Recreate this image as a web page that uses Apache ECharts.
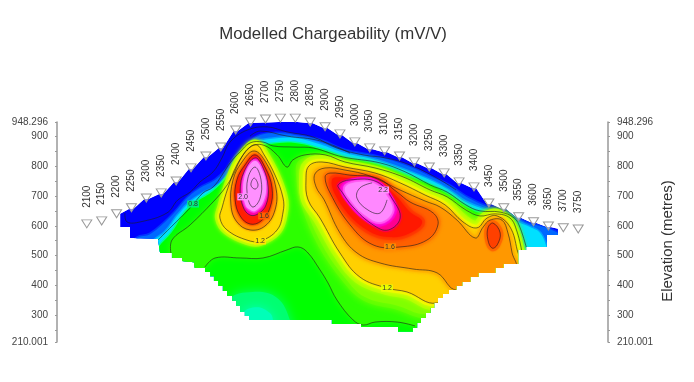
<!DOCTYPE html>
<html><head><meta charset="utf-8">
<style>html,body{margin:0;padding:0;background:#fff}#c{width:694px;height:382px;filter:blur(0.5px)}</style>
<script src="https://cdn.jsdelivr.net/npm/echarts@6/dist/echarts.min.js"></script></head>
<body><div id="c"></div>
<script>
const titleText = 'Modelled Chargeability (mV/V)';
const axisName = 'Elevation (metres)';
const yLabels = [210.001,300,400,500,600,700,800,900,948.296];
const yTicks = [210.001,250,300,350,400,450,500,550,600,650,700,750,800,850,900,948.296];
const stations = [2100,2150,2200,2250,2300,2350,2400,2450,2500,2550,2600,2650,2700,2750,2800,2850,2900,2950,3000,3050,3100,3150,3200,3250,3300,3350,3400,3450,3500,3550,3600,3650,3700,3750];
const markerElevation = [593,603,627,647,680,697,737,781,821,851,908,935,945,948,948,935,919,895,868,848,838,821,801,784,764,734,717,663,647,617,600,586,580,576];
const sectionTop = [603,613,637,657,690,707,747,791,831,861,918,945,947,948,948,945,929,905,878,858,848,831,811,794,774,744,727,673,657,627,610,596,590,586];
const sectionBottom = [[2212,640],[2212,596],[2245,596],[2245,559],[2339,556],[2346,509],[2386,509],[2386,492],[2420,492],[2420,482],[2460,478],[2463,458],[2497,458],[2497,445],[2514,445],[2514,431],[2527,431],[2527,415],[2541,415],[2541,398],[2557,398],[2557,381],[2571,381],[2571,364],[2588,364],[2588,348],[2601,348],[2601,331],[2615,331],[2615,311],[2631,311],[2631,297],[2645,297],[2645,284],[2923,284],[2923,270],[3021,270],[3021,260],[3145,260],[3145,244],[3195,244],[3195,257],[3209,257],[3209,274],[3222,274],[3222,291],[3239,291],[3239,307],[3253,307],[3253,324],[3266,324],[3266,341],[3279,341],[3279,358],[3296,358],[3296,371],[3316,371],[3316,385],[3340,385],[3340,398],[3360,398],[3360,411],[3387,411],[3387,428],[3414,428],[3414,442],[3471,442],[3471,458],[3498,458],[3498,472],[3548,472],[3548,519],[3575,519],[3575,529],[3645,529],[3645,569],[3682,569],[3682,590]];
const belowSection = [[3800,220],[2150,220]];
const bandMidBlue = [[2262,552],[2312,572],[2363,613],[2396,646],[2437,693],[2480,727],[2531,754],[2567,787],[2598,831],[2635,868],[2675,901],[2732,911],[2799,905],[2883,888],[2967,854],[3068,834],[3169,804],[3259,764],[3320,734],[3370,700],[3454,660],[3521,640],[3572,613],[3622,599],[3662,586],[3706,552]];
const bandCyan = [[2312,536],[2363,579],[2406,636],[2447,680],[2497,713],[2547,740],[2588,794],[2621,848],[2662,878],[2715,891],[2799,895],[2883,874],[2967,844],[3068,821],[3169,787],[3259,750],[3320,717],[3373,680],[3444,653],[3504,636],[3548,613],[3588,596],[3622,576],[3649,519]];
const bandGreen = [[2339,525],[2386,579],[2430,646],[2473,683],[2524,717],[2574,767],[2615,828],[2655,861],[2715,874],[2799,878],[2883,858],[2967,828],[3068,807],[3169,770],[3259,734],[3320,700],[3373,663],[3420,643],[3478,640],[3521,623],[3538,579],[3561,519],[3575,452]];
const blobSpring = [[2581,351],[2658,378],[2739,358],[2782,284],[2789,217],[2598,217]];
const blobTeal = [[2625,307],[2672,327],[2715,307],[2725,284],[2732,217],[2615,217]];
const contourUpper = [[2383,505],[2386,552],[2447,603],[2524,680],[2564,727],[2591,770],[2615,821],[2648,864],[2692,871],[2739,838],[2772,797],[2792,821],[2833,838],[2900,838],[2967,814],[3068,794],[3162,764],[3253,720],[3310,697],[3373,653],[3420,633],[3471,640],[3521,626],[3545,579],[3561,512]];
const contourLower = [[3202,264],[3142,277],[3068,277],[3028,267],[2994,284],[2940,351],[2910,408],[2883,452],[2840,512],[2809,529],[2772,519],[2692,492],[2615,492],[2531,492],[2497,462]];
const contourCyan = [[2339,552],[2386,599],[2447,660],[2490,710],[2524,730],[2554,770],[2581,811],[2615,848],[2648,878],[2692,881],[2725,868],[2799,864],[2860,861],[2960,831],[3085,811],[3169,781],[3253,737],[3310,713],[3373,670],[3420,650],[3488,646],[3535,626],[3555,593],[3578,519]];
const contourBlueA = [[2228,643],[2235,613],[2279,613],[2369,643],[2406,687],[2447,713],[2480,747],[2524,781],[2554,828],[2581,881],[2638,921],[2705,932],[2772,915],[2860,898],[2940,861],[3028,838],[3108,827],[3185,804],[3276,760],[3340,720]];
const contourBlueB = [[2648,901],[2682,918],[2772,901],[2883,885],[2984,844]];
const ringLime = [[2816,770],[2823,811],[2883,821],[2967,804],[3068,784],[3162,750],[3253,710],[3310,683],[3373,640],[3404,613],[3444,633],[3478,640],[3521,613],[3548,519],[3555,458],[3253,307],[3135,334],[3034,361],[2967,425],[2890,536],[2833,670]];
const left12 = [[2547,626],[2571,586],[2638,552],[2682,549],[2739,586],[2759,646],[2759,693],[2732,770],[2692,844],[2672,871],[2648,864],[2604,804],[2574,727],[2554,660]];
const left14 = [[2662,851],[2702,811],[2735,727],[2732,653],[2698,599],[2648,586],[2604,613],[2584,670],[2591,754],[2621,814]];
const left16 = [[2665,838],[2698,797],[2722,727],[2715,660],[2685,616],[2648,606],[2615,633],[2598,687],[2604,754],[2631,804]];
const left18 = [[2665,828],[2692,794],[2709,730],[2702,670],[2675,640],[2648,636],[2625,663],[2615,720],[2628,781]];
const leftPink = [[2665,817],[2688,787],[2702,737],[2692,680],[2665,650],[2645,656],[2631,676],[2625,727],[2638,787]];
const leftInnerA = [[2665,797],[2685,754],[2682,693],[2658,663],[2641,693],[2641,760]];
const leftInnerB = [[2662,760],[2675,737],[2665,723],[2651,737]];
const right12 = [[2843,687],[2836,754],[2846,801],[2890,814],[2967,797],[3068,777],[3152,744],[3236,703],[3303,670],[3363,613],[3410,593],[3444,626],[3478,633],[3521,596],[3545,519],[3555,452],[3276,341],[3175,378],[3108,391],[3017,428],[2950,509],[2883,626]];
const right14 = [[2897,687],[2870,730],[2866,774],[2900,794],[2967,787],[3051,767],[3152,720],[3236,683],[3286,663],[3343,619],[3404,559],[3431,596],[3454,619],[3494,619],[3514,576],[3528,509],[3538,458],[3343,385],[3276,442],[3195,455],[3085,475],[3007,509],[2950,576]];
const right16 = [[2900,764],[2917,777],[2984,770],[3075,760],[3142,713],[3185,680],[3263,643],[3279,603],[3242,552],[3152,529],[3061,536],[2984,603],[2917,710]];
const rightRed = [[2923,754],[2984,760],[3075,750],[3135,703],[3185,646],[3226,613],[3185,576],[3118,562],[3041,586],[2960,663]];
const right18 = [[2944,737],[2984,754],[3075,747],[3128,687],[3152,626],[3112,586],[3061,603],[2994,663],[2957,713]];
const rightPink = [[2967,727],[3011,747],[3068,740],[3112,693],[3125,646],[3085,613],[3034,636],[2991,680]];
const rightInner = [[3058,744],[3017,727],[3007,693],[3044,653],[3085,643],[3108,687]];
const bump = [[3464,609],[3488,576],[3478,536],[3461,525],[3447,552],[3447,593]];
const contourLabels = ['1.2','1.2','1.6','0.8','1.6','2.0','2.2'];
const labelStations = [2682,3108,3118,2457,2695,2625,3095];
const labelElevations = [549,391,529,673,633,697,720];
const labelFills = ['#ffe400','#e8ff00','#ff9000','#00f080','#ff6000','#ff90ff','#ff90ff'];

const teeth = [];
stations.forEach((s,i)=>{ if(s>2212&&s<3680){ teeth.push([s-7,sectionTop[i]],[s+7,sectionTop[i]]); } });
const section = [[2212,640]].concat(teeth,sectionBottom.slice().reverse());
const band = c => c.concat(belowSection);
const lime = contourUpper.concat([[3575,440],[3400,230]],contourLower,[[2440,440]]);
const layers = [
 {p:section,c:'#0000ff',s:0},
 {p:band(bandMidBlue),c:'#0068ff',h:[[3,'#0034ff']]},
 {p:band(bandCyan),c:'#00e0ff',h:[[3,'#00a0ff']]},
 {p:band(bandGreen),c:'#00ff00',h:[[3,'#00ff90']]},
 {p:blobSpring,c:'#00ff70',b:6},
 {p:blobTeal,c:'#00ffb8',b:6},
 {p:lime,c:'#2cff00',b:3},
 {p:ringLime,c:'#80ff00',h:[[8,'#58ff00']],b:4},
 {p:left12,c:'#ffd800',h:[[10,'#a0ff00'],[5,'#e8ff00']],b:2},
 {p:right12,c:'#ffd000',h:[[14,'#b0ff00'],[6,'#f0ff00']],b:2},
 {p:right14,c:'#ff9800',h:[[5,'#ffb800']],b:2},
 {p:right16,c:'#ff6000',h:[[5,'#ff8000']],b:2},
 {p:rightRed,c:'#ff1800',h:[[6,'#ff4000']],b:2},
 {p:right18,c:'#ff0090',h:[[3,'#ff0040']],b:1},
 {p:rightPink,c:'#ff88ff',h:[[9,'#ff00d0'],[4,'#ff50f0']],b:1},
 {p:left14,c:'#ff9000',h:[[3,'#ffc000']],b:1},
 {p:left16,c:'#ff2000',h:[[3,'#ff6000']],b:1},
 {p:left18,c:'#ff00a0',b:1},
 {p:leftPink,c:'#ff90ff',h:[[3,'#ff30e0']],b:1},
 {p:bump,c:'#ff4000',h:[[6,'#ff6800']],b:1}
];
const contours = [
 [contourBlueA,0],[contourBlueB,0],[contourCyan,0],[contourUpper,0],[contourLower,0],
 [left12,1],[left14,1],[left16,1],[left18,1],[leftInnerA,1],[leftInnerB,1],
 [right12,1],[right14,1],[right16,1],[right18,1],[rightInner,0],[bump,1]
];
const chart = echarts.init(document.getElementById('c'),null,{renderer:'canvas'});
const font='Liberation Sans, Arial, sans-serif';
const mapPts=(api,pts)=>pts.map(p=>api.coord(p));
const yAxis = (pos)=>({type:'value',position:pos,min:210.001,max:948.296,
  axisLine:{show:true,lineStyle:{color:'#999',width:1.5}},
  axisTick:{show:true,length:2,customValues:yTicks,lineStyle:{color:'#999'}},
  axisLabel:{show:true,customValues:yLabels,formatter:v=>String(v),color:'#444',fontSize:10,fontFamily:font,margin:9},
  splitLine:{show:false}});
const rightAxis = Object.assign(yAxis('right'),{name:axisName,nameLocation:'middle',nameGap:52,nameRotate:90,nameMoveOverlap:false,
  nameTextStyle:{fontSize:15,color:'#333',fontFamily:font,padding:[0,18,0,0]}});
chart.setOption({
 animation:false,
 backgroundColor:'#fff',
 title:{text:titleText,left:328,top:21,textAlign:'center',textStyle:{fontSize:16.8,fontWeight:'normal',color:'#333',fontFamily:font}},
 grid:{left:57,right:86,top:122,bottom:40},
 xAxis:{type:'value',min:2000,max:3850,show:false},
 yAxis:[yAxis('left'),rightAxis],
 series:[
  {type:'custom',coordinateSystem:'cartesian2d',silent:true,clip:false,z:2,
   data:layers.map((l,i)=>[i]),
   renderItem:(params,api)=>{
     const l=layers[api.value(0)],pts=mapPts(api,l.p),children=[];
     const blur=l.b||0;
     (l.h||[]).forEach(h=>children.push({type:'polygon',shape:{points:pts,smooth:l.s===0?0:0.4},
       style:{fill:h[1],stroke:h[1],lineWidth:h[0],lineJoin:'round',shadowBlur:blur*2,shadowColor:h[1]}}));
     children.push({type:'polygon',shape:{points:pts,smooth:l.s===0?0:0.4},
       style:{fill:l.c,shadowBlur:blur*2,shadowColor:l.c}});
     return {type:'group',children,clipPath:{type:'polygon',shape:{points:mapPts(api,section)}}};
   }},
  {type:'custom',coordinateSystem:'cartesian2d',silent:true,clip:false,z:3,
   data:contours.map((l,i)=>[i]),
   renderItem:(params,api)=>{
     const k=contours[api.value(0)],pts=mapPts(api,k[0]);
     return {type:'group',children:[{type:k[1]?'polygon':'polyline',shape:{points:pts,smooth:0.4},
       style:{fill:null,stroke:'rgba(30,30,30,0.6)',lineWidth:1}}],
       clipPath:{type:'polygon',shape:{points:mapPts(api,section)}}};
   }},
  {type:'custom',coordinateSystem:'cartesian2d',silent:true,clip:false,z:4,
   data:contourLabels.map((l,i)=>[labelStations[i],labelElevations[i]]),
   renderItem:(params,api)=>{
     const i=params.dataIndex,p=api.coord([api.value(0),api.value(1)]);
     return {type:'text',x:p[0],y:p[1],style:{text:contourLabels[i],fill:'#333',font:'7px '+font,align:'center',verticalAlign:'middle',backgroundColor:labelFills[i],padding:[0,1]}};
   }},
  {type:'scatter',silent:true,clip:false,z:5,symbol:'path://M0 0L10 0L5 9Z',symbolSize:[10,8],symbolOffset:[0,-4],
   data:stations.map((s,i)=>[s,markerElevation[i]]),
   itemStyle:{color:'rgba(255,255,255,0.55)',borderColor:'#999',borderWidth:1,opacity:1}},
  {type:'custom',coordinateSystem:'cartesian2d',silent:true,clip:false,z:6,
   data:stations.map((s,i)=>[s,markerElevation[i]]),
   renderItem:(params,api)=>{
     const p=api.coord([api.value(0),api.value(1)]);
     return {type:'text',x:p[0],y:p[1]-20,rotation:Math.PI/2,
       style:{text:String(api.value(0)),fill:'#333',font:'10px '+font,align:'left',verticalAlign:'middle'}};
   }}
 ]
});
</script></body></html>
